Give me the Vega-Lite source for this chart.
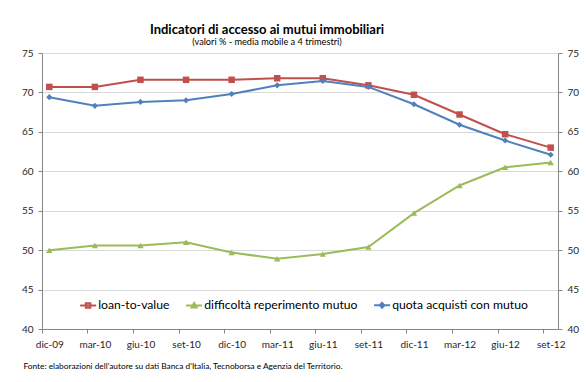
{
  "$schema": "https://vega.github.io/schema/vega-lite/v6.json",
  "width": 516,
  "height": 276,
  "autosize": {"type": "none"},
  "padding": {"left": 42, "top": 53, "right": 28, "bottom": 53},
  "background": "white",
  "config": {"view": {"stroke": null}, "font": "Lato"},
  "title": {
    "text": "Indicatori di accesso ai mutui immobiliari",
    "subtitle": "(valori % - media mobile a 4 trimestri)",
    "anchor": "middle",
    "dx": -33,
    "font": "Lato",
    "fontSize": 13,
    "fontWeight": "bold",
    "color": "black",
    "subtitleFont": "Lato",
    "subtitleFontSize": 9.2,
    "subtitleColor": "black",
    "subtitlePadding": 0.5,
    "offset": 1
  },
  "data": {
    "values": [
      {"periodo": "dic-09", "serie": "loan-to-value", "valore": 70.7},
      {"periodo": "mar-10", "serie": "loan-to-value", "valore": 70.7},
      {"periodo": "giu-10", "serie": "loan-to-value", "valore": 71.6},
      {"periodo": "set-10", "serie": "loan-to-value", "valore": 71.6},
      {"periodo": "dic-10", "serie": "loan-to-value", "valore": 71.6},
      {"periodo": "mar-11", "serie": "loan-to-value", "valore": 71.8},
      {"periodo": "giu-11", "serie": "loan-to-value", "valore": 71.8},
      {"periodo": "set-11", "serie": "loan-to-value", "valore": 70.9},
      {"periodo": "dic-11", "serie": "loan-to-value", "valore": 69.7},
      {"periodo": "mar-12", "serie": "loan-to-value", "valore": 67.2},
      {"periodo": "giu-12", "serie": "loan-to-value", "valore": 64.7},
      {"periodo": "set-12", "serie": "loan-to-value", "valore": 63.0},
      {"periodo": "dic-09", "serie": "difficoltà reperimento mutuo", "valore": 50.0},
      {"periodo": "mar-10", "serie": "difficoltà reperimento mutuo", "valore": 50.6},
      {"periodo": "giu-10", "serie": "difficoltà reperimento mutuo", "valore": 50.6},
      {"periodo": "set-10", "serie": "difficoltà reperimento mutuo", "valore": 51.0},
      {"periodo": "dic-10", "serie": "difficoltà reperimento mutuo", "valore": 49.7},
      {"periodo": "mar-11", "serie": "difficoltà reperimento mutuo", "valore": 48.9},
      {"periodo": "giu-11", "serie": "difficoltà reperimento mutuo", "valore": 49.5},
      {"periodo": "set-11", "serie": "difficoltà reperimento mutuo", "valore": 50.4},
      {"periodo": "dic-11", "serie": "difficoltà reperimento mutuo", "valore": 54.7},
      {"periodo": "mar-12", "serie": "difficoltà reperimento mutuo", "valore": 58.2},
      {"periodo": "giu-12", "serie": "difficoltà reperimento mutuo", "valore": 60.5},
      {"periodo": "set-12", "serie": "difficoltà reperimento mutuo", "valore": 61.1},
      {"periodo": "dic-09", "serie": "quota acquisti con mutuo", "valore": 69.4},
      {"periodo": "mar-10", "serie": "quota acquisti con mutuo", "valore": 68.3},
      {"periodo": "giu-10", "serie": "quota acquisti con mutuo", "valore": 68.8},
      {"periodo": "set-10", "serie": "quota acquisti con mutuo", "valore": 69.0},
      {"periodo": "dic-10", "serie": "quota acquisti con mutuo", "valore": 69.8},
      {"periodo": "mar-11", "serie": "quota acquisti con mutuo", "valore": 70.9},
      {"periodo": "giu-11", "serie": "quota acquisti con mutuo", "valore": 71.45},
      {"periodo": "set-11", "serie": "quota acquisti con mutuo", "valore": 70.7},
      {"periodo": "dic-11", "serie": "quota acquisti con mutuo", "valore": 68.5},
      {"periodo": "mar-12", "serie": "quota acquisti con mutuo", "valore": 65.9},
      {"periodo": "giu-12", "serie": "quota acquisti con mutuo", "valore": 63.9},
      {"periodo": "set-12", "serie": "quota acquisti con mutuo", "valore": 62.1}
    ]
  },
  "encoding": {
    "x": {
      "field": "periodo",
      "type": "ordinal",
      "sort": null,
      "scale": {"type": "point", "padding": 0.16},
      "axis": {
        "title": "Fonte: elaborazioni dell'autore su dati Banca d'Italia, Tecnoborsa e Agenzia del Territorio.",
        "titleFont": "Lato",
        "titleFontSize": 8.3,
        "titleFontWeight": "normal",
        "titleColor": "black",
        "titleAnchor": "start",
        "titleAlign": "left",
        "titleBaseline": "middle",
        "titleX": -19,
        "titleY": 37,
        "labelAngle": 0,
        "labelFont": "Lato",
        "labelFontSize": 10,
        "labelColor": "#262626",
        "labelPadding": 6,
        "tickSize": 4,
        "tickOffset": -7.5,
        "labelOffset": 7.5,
        "tickColor": "#868686",
        "domainColor": "#868686",
        "grid": false
      }
    }
  },
  "layer": [
    {
      "mark": {"type": "line", "strokeWidth": 2},
      "encoding": {
        "y": {
          "field": "valore",
          "type": "quantitative",
          "scale": {"domain": [40, 75], "nice": false, "zero": false},
          "axis": {
            "title": null,
            "values": [40, 45, 50, 55, 60, 65, 70, 75],
            "grid": true,
            "gridColor": "#D9D9D9",
            "domainColor": "#868686",
            "tickColor": "#868686",
            "tickSize": 4,
            "labelPadding": 5,
            "labelFont": "Lato",
            "labelFontSize": 10,
            "labelColor": "#262626"
          }
        },
        "color": {
          "field": "serie",
          "type": "nominal",
          "scale": {
            "domain": ["loan-to-value", "difficoltà reperimento mutuo", "quota acquisti con mutuo"],
            "range": ["#C0504D", "#9BBB59", "#4F81BD"]
          },
          "legend": null
        }
      }
    },
    {
      "mark": {"type": "point", "filled": true, "opacity": 1},
      "encoding": {
        "y": {
          "field": "valore",
          "type": "quantitative",
          "scale": {"domain": [40, 75], "nice": false, "zero": false},
          "axis": null
        },
        "color": {
          "field": "serie",
          "type": "nominal",
          "scale": {
            "domain": ["loan-to-value", "difficoltà reperimento mutuo", "quota acquisti con mutuo"],
            "range": ["#C0504D", "#9BBB59", "#4F81BD"]
          },
          "legend": null
        },
        "shape": {
          "field": "serie",
          "type": "nominal",
          "scale": {
            "domain": ["loan-to-value", "difficoltà reperimento mutuo", "quota acquisti con mutuo"],
            "range": ["square", "triangle-up", "diamond"]
          },
          "legend": null
        },
        "size": {
          "field": "serie",
          "type": "nominal",
          "scale": {
            "domain": ["loan-to-value", "difficoltà reperimento mutuo", "quota acquisti con mutuo"],
            "range": [42, 38, 32]
          },
          "legend": null
        }
      }
    },
    {
      "mark": {"type": "point", "filled": false, "opacity": 0},
      "encoding": {
        "y": {
          "field": "valore",
          "type": "quantitative",
          "scale": {"domain": [40, 75], "nice": false, "zero": false},
          "axis": {
            "orient": "right",
            "title": null,
            "values": [40, 45, 50, 55, 60, 65, 70, 75],
            "grid": false,
            "domainColor": "#868686",
            "tickColor": "#868686",
            "tickSize": 4,
            "labelPadding": 5,
            "labelFont": "Lato",
            "labelFontSize": 10,
            "labelColor": "#262626"
          }
        },
        "color": {
          "field": "serie",
          "type": "nominal",
          "scale": {
            "domain": ["loan-to-value", "difficoltà reperimento mutuo", "quota acquisti con mutuo"],
            "range": ["#C0504D", "#9BBB59", "#4F81BD"]
          },
          "legend": {
            "orient": "none",
            "legendX": 40,
            "legendY": 246,
            "direction": "horizontal",
            "title": null,
            "padding": 0,
            "labelFont": "Lato",
            "labelFontSize": 12.2,
            "labelColor": "black",
            "labelLimit": 400,
            "symbolSize": 100,
            "symbolStrokeWidth": 2,
            "symbolOpacity": 1,
            "labelOffset": 4,
            "columnPadding": 12
          }
        },
        "shape": {
          "field": "serie",
          "type": "nominal",
          "scale": {
            "domain": ["loan-to-value", "difficoltà reperimento mutuo", "quota acquisti con mutuo"],
            "range": ["M-1.6,0H1.6M-0.45,-0.45H0.45V0.45H-0.45Z", "M-1.6,0H1.6M0,-0.5L0.5,0.4H-0.5Z", "M-1.6,0H1.6M0,-0.5L0.45,0L0,0.5L-0.45,0Z"]
          },
          "legend": {
            "orient": "none",
            "legendX": 40,
            "legendY": 246,
            "direction": "horizontal",
            "title": null,
            "padding": 0,
            "labelFont": "Lato",
            "labelFontSize": 12.2,
            "labelColor": "black",
            "labelLimit": 400,
            "symbolSize": 100,
            "symbolStrokeWidth": 2,
            "symbolOpacity": 1,
            "labelOffset": 4,
            "columnPadding": 12
          }
        }
      }
    }
  ],
  "resolve": {"scale": {"y": "independent", "color": "independent", "shape": "independent"}}
}
